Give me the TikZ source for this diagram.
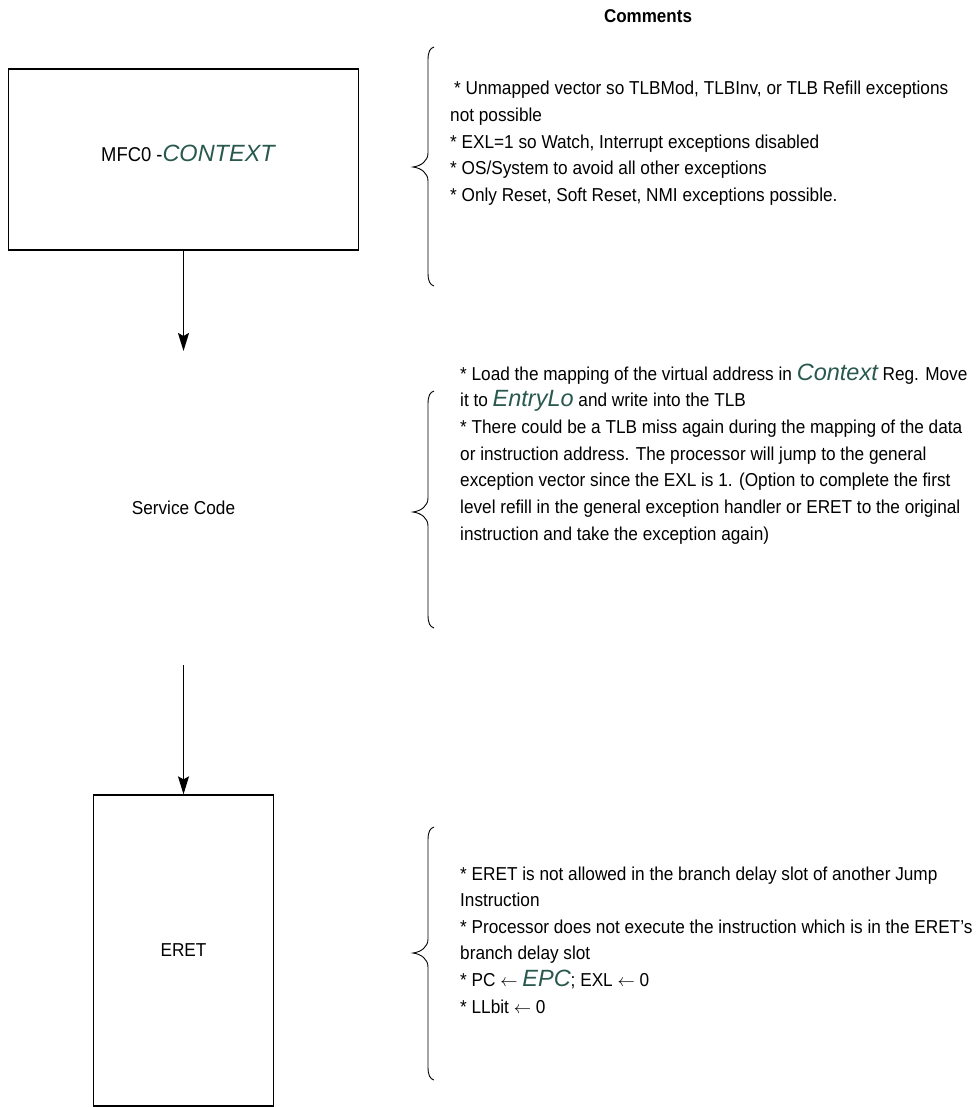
\documentclass[tikz,border=0pt]{standalone}
\usepackage{fontspec}
\setmainfont{Liberation Sans}
\newfontfamily\nf[FakeStretch=0.92]{Liberation Sans}
\newfontfamily\wf{Liberation Sans}
\usetikzlibrary{arrows.meta}
\definecolor{tealgreen}{RGB}{40,88,78}
\newcommand{\grn}[1]{{\wf\itshape\fontsize{23.5}{26}\selectfont\color{tealgreen}#1}}
\newcommand{\cbrace}[3]{%
  \draw[bracestroke] (434,#1) .. controls (430,{#1+1}) and (428,{#1+5}) .. (428,{#1+13})
    -- (428,{#2-14}) .. controls (428,{#2-6}) and (421,{#2-1}) .. (413,#2)
    .. controls (421,{#2+1}) and (428,{#2+6}) .. (428,{#2+14})
    -- (428,{#3-13}) .. controls (428,{#3-5}) and (430,{#3-1}) .. (434,#3);}
\tikzset{
  txt/.style={anchor=base west, inner sep=0pt, font=\nf\fontsize{18.7}{22}\selectfont},
  boxnode/.style={draw, line width=1.3pt, inner sep=0pt, font=\nf\fontsize{18.7}{22}\selectfont},
  flow/.style={line width=1.3pt, -{Stealth[length=18pt,width=11pt,inset=3pt]}},
  bracestroke/.style={line width=0.9pt}
}
\begin{document}
\begin{tikzpicture}[x=1pt,y=-1pt]
\useasboundingbox (0,0) rectangle (977,1107);
% header
\node[anchor=base, inner sep=0pt, font=\nf\bfseries\fontsize{18.5}{22}\selectfont] (hdr) at (648,23) {Comments};
% flow boxes
\node[boxnode, minimum width=350pt, minimum height=181pt] (box1) at (183.5,159.5) {};
\node[anchor=base, inner sep=0pt] (mfc) at (188,162)
  {{\nf\fontsize{20}{24}\selectfont MFC0 -}\grn{CONTEXT}};
\coordinate (a1end) at (183.5,351);
\draw[flow] (box1.south) -- (a1end);
\node[anchor=base, inner sep=0pt, font=\nf\fontsize{18.7}{22}\selectfont] (svc) at (183.5,514) {Service Code};
\coordinate (a2start) at (183.5,665);
\node[boxnode, minimum width=180pt, minimum height=311pt] (eret) at (183.5,950.5) {ERET};
\draw[flow] (a2start) -- (eret.north);
% braces
\cbrace{47}{167}{286}
\cbrace{391}{512}{628}
\cbrace{827}{953}{1080}
% comments 1
\node[txt] (t1a) at (454,95) {* Unmapped vector so TLBMod, TLBInv, or TLB Refill exceptions};
\node[txt] (t1b) at (450,121.6) {not possible};
\node[txt] (t1c) at (450,148.2) {* EXL=1 so Watch, Interrupt exceptions disabled};
\node[txt] (t1d) at (450,174.8) {* OS/System to avoid all other exceptions};
\node[txt] (t1e) at (450,201.4) {* Only Reset, Soft Reset, NMI exceptions possible.};
% comments 2
\node[txt] (t2a) at (460,380) {* Load the mapping of the virtual address in \grn{Context} Reg. Move};
\node[txt] (t2b) at (460,406.7) {it to \grn{EntryLo} and write into the TLB};
\node[txt] (t2c) at (460,433.4) {* There could be a TLB miss again during the mapping of the data};
\node[txt] (t2d) at (460,460.1) {or instruction address. The processor will jump to the general};
\node[txt] (t2e) at (460,486.8) {exception vector since the EXL is 1. (Option to complete the first};
\node[txt] (t2f) at (460,513.5) {level refill in the general exception handler or ERET to the original};
\node[txt] (t2g) at (460,540.2) {instruction and take the exception again)};
% comments 3
\node[txt] (t3a) at (460,880) {* ERET is not allowed in the branch delay slot of another Jump};
\node[txt] (t3b) at (460,906.6) {Instruction};
\node[txt] (t3c) at (460,933.2) {* Processor does not execute the instruction which is in the ERET’s};
\node[txt] (t3d) at (460,959.8) {branch delay slot};
\node[txt] (t3e) at (460,986.4) {* PC $\leftarrow$ \grn{EPC}; EXL $\leftarrow$ 0};
\node[txt] (t3f) at (460,1013) {* LLbit $\leftarrow$ 0};
\end{tikzpicture}
\end{document}
